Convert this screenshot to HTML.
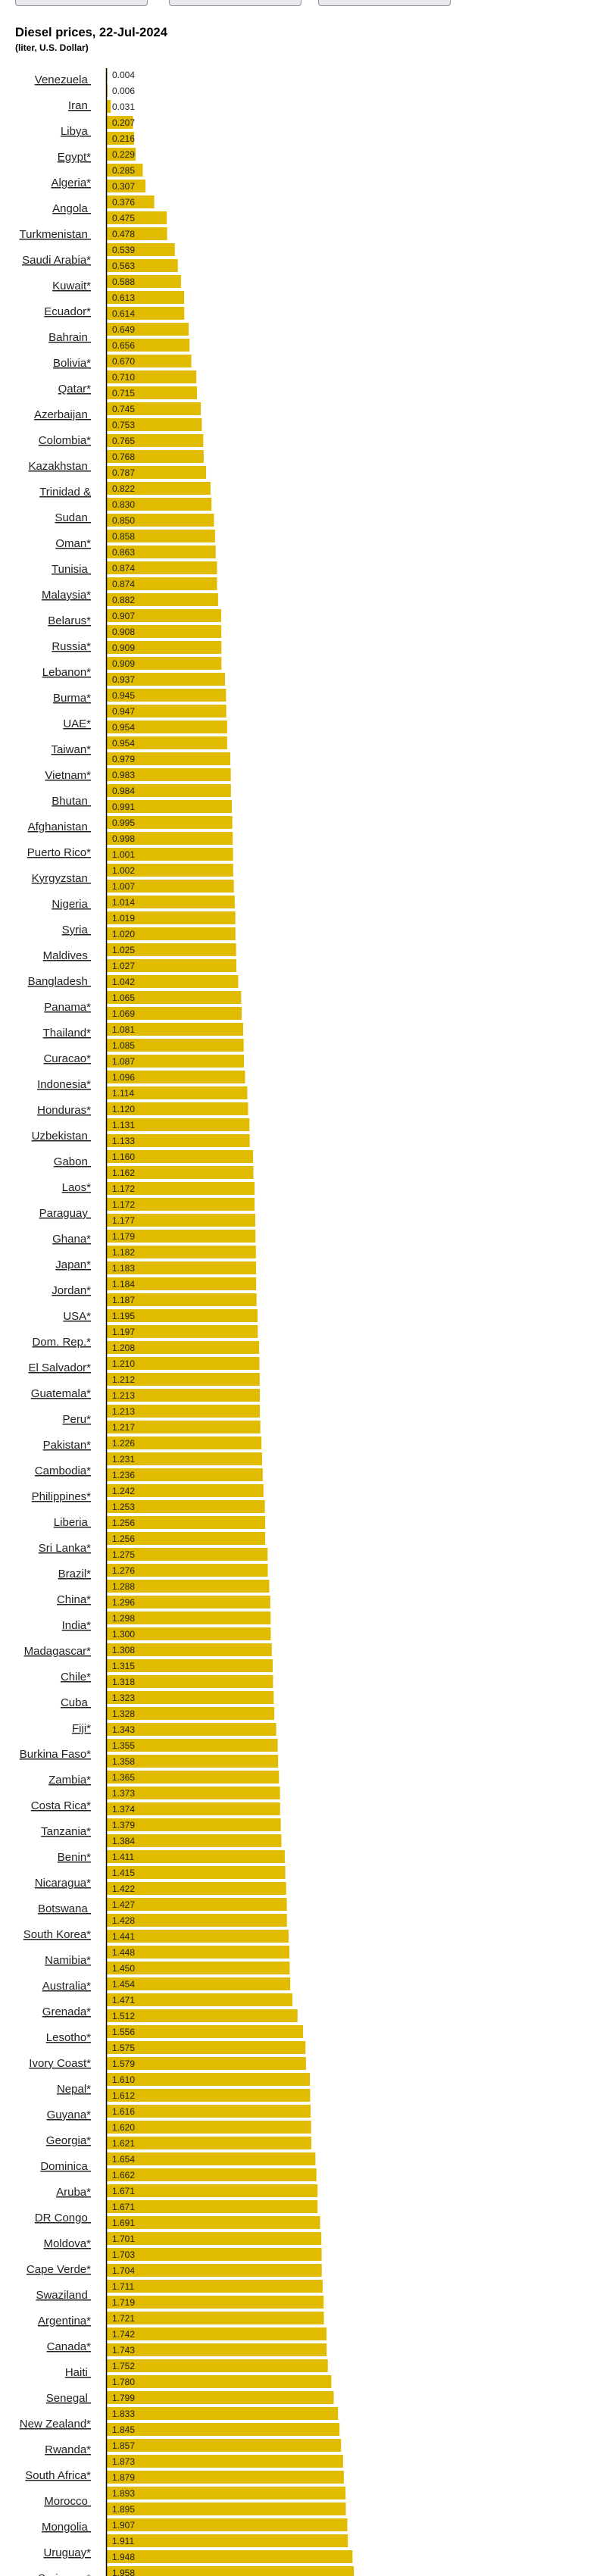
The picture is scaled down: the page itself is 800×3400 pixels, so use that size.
<!DOCTYPE html>
<html><head><meta charset="utf-8"><style>
html,body{margin:0;padding:0;background:#fff;width:800px;height:3400px;overflow:hidden;font-family:"Liberation Sans",Arial,sans-serif;}
.btn{position:absolute;top:-8px;height:14px;border:1px solid #8f8f9d;border-radius:4px;background:#e9e9ed;}
#title{position:absolute;left:20px;top:34px;font-weight:bold;font-size:16.5px;color:#000;}
#sub{position:absolute;left:20px;top:56px;font-weight:bold;font-size:12px;color:#000;}
svg{position:absolute;left:0;top:0;}
</style></head><body>
<div class="btn" style="left:20px;width:173px"></div>
<div class="btn" style="left:223px;width:173px"></div>
<div class="btn" style="left:420px;width:173px"></div>
<div id="title">Diesel prices, 22-Jul-2024</div>
<div id="sub">(liter, U.S. Dollar)</div>
<svg id="chart" width="800" height="3400"></svg>
<script>
const values = [0.004,0.006,0.031,0.207,0.216,0.229,0.285,0.307,0.376,0.475,
0.478,0.539,0.563,0.588,0.613,0.614,0.649,0.656,0.670,0.710,
0.715,0.745,0.753,0.765,0.768,0.787,0.822,0.830,0.850,0.858,
0.863,0.874,0.874,0.882,0.907,0.908,0.909,0.909,0.937,0.945,
0.947,0.954,0.954,0.979,0.983,0.984,0.991,0.995,0.998,1.001,
1.002,1.007,1.014,1.019,1.020,1.025,1.027,1.042,1.065,1.069,
1.081,1.085,1.087,1.096,1.114,1.120,1.131,1.133,1.160,1.162,
1.172,1.172,1.177,1.179,1.182,1.183,1.184,1.187,1.195,1.197,
1.208,1.210,1.212,1.213,1.213,1.217,1.226,1.231,1.236,1.242,
1.253,1.256,1.256,1.275,1.276,1.288,1.296,1.298,1.300,1.308,
1.315,1.318,1.323,1.328,1.343,1.355,1.358,1.365,1.373,1.374,
1.379,1.384,1.411,1.415,1.422,1.427,1.428,1.441,1.448,1.450,
1.454,1.471,1.512,1.556,1.575,1.579,1.610,1.612,1.616,1.620,
1.621,1.654,1.662,1.671,1.671,1.691,1.701,1.703,1.704,1.711,
1.719,1.721,1.742,1.743,1.752,1.780,1.799,1.833,1.845,1.857,
1.873,1.879,1.893,1.895,1.907,1.911,1.948,1.958];
const countries = ["Venezuela ","Iran ","Libya ","Egypt*","Algeria*","Angola ","Turkmenistan ","Saudi Arabia*","Kuwait*","Ecuador*",
"Bahrain ","Bolivia*","Qatar*","Azerbaijan ","Colombia*","Kazakhstan ","Trinidad &","Sudan ","Oman*","Tunisia ",
"Malaysia*","Belarus*","Russia*","Lebanon*","Burma*","UAE*","Taiwan*","Vietnam*","Bhutan ","Afghanistan ",
"Puerto Rico*","Kyrgyzstan ","Nigeria ","Syria ","Maldives ","Bangladesh ","Panama*","Thailand*","Curacao*","Indonesia*",
"Honduras*","Uzbekistan ","Gabon ","Laos*","Paraguay ","Ghana*","Japan*","Jordan*","USA*","Dom. Rep.*",
"El Salvador*","Guatemala*","Peru*","Pakistan*","Cambodia*","Philippines*","Liberia ","Sri Lanka*","Brazil*","China*",
"India*","Madagascar*","Chile*","Cuba ","Fiji*","Burkina Faso*","Zambia*","Costa Rica*","Tanzania*","Benin*",
"Nicaragua*","Botswana ","South Korea*","Namibia*","Australia*","Grenada*","Lesotho*","Ivory Coast*","Nepal*","Guyana*",
"Georgia*","Dominica ","Aruba*","DR Congo ","Moldova*","Cape Verde*","Swaziland ","Argentina*","Canada*","Haiti ",
"Senegal ","New Zealand*","Rwanda*","South Africa*","Morocco ","Mongolia ","Uruguay*","Suriname*"];

const NS="http://www.w3.org/2000/svg";
const svg=document.getElementById('chart');
const X0=141, PX=166.5, BAR_TOP=90, PITCH=21, BAR_H=17, LBL_Y=105, LBL_PITCH=34;
const xs=v=>X0+v*PX;
const yb=i=>BAR_TOP+i*PITCH;
const yl=i=>LBL_Y+i*LBL_PITCH;

values.forEach((v,i)=>{
  const r=document.createElementNS(NS,'rect');
  r.setAttribute('x',X0);r.setAttribute('y',yb(i));
  r.setAttribute('width',Math.max(0,xs(v)-X0));r.setAttribute('height',BAR_H);
  r.setAttribute('fill','#e1bb00');
  
  
  svg.appendChild(r);
  const t=document.createElementNS(NS,'text');
  t.setAttribute('x',X0+7);t.setAttribute('y',yb(i)+13);
  t.setAttribute('font-size','12');t.setAttribute('fill','#222');
  t.setAttribute('font-family','Liberation Sans, Arial, sans-serif');
  t.textContent=v.toFixed(3);
  
  
  svg.appendChild(t);
});
countries.forEach((c,i)=>{
  const t=document.createElementNS(NS,'text');
  t.setAttribute('x',120);t.setAttribute('y',yl(i)+5);
  t.setAttribute('text-anchor','end');
  t.setAttribute('font-size','15');t.setAttribute('fill','#222');
  t.setAttribute('font-family','Liberation Sans, Arial, sans-serif');
  t.setAttribute('text-decoration','underline');
  t.setAttribute('xml:space','preserve');
  t.style.whiteSpace='pre';
  t.textContent=c;
  
  
  svg.appendChild(t);
});
const ax=document.createElementNS(NS,'line');
ax.setAttribute('x1',140.5);ax.setAttribute('x2',140.5);
ax.setAttribute('y1',BAR_TOP);ax.setAttribute('y2',3400);
ax.setAttribute('stroke','#000');ax.setAttribute('stroke-width','1.5');


svg.appendChild(ax);
</script>
</body></html>
